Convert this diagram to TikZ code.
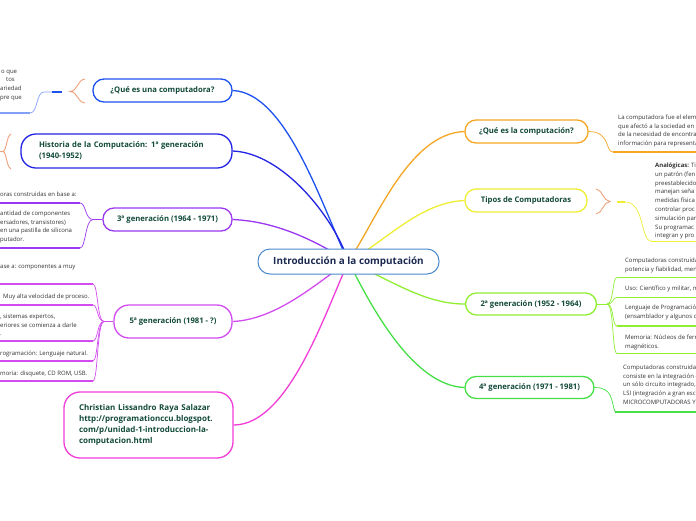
\documentclass[tikz,border=0pt]{standalone}
\usepackage{fontspec}
\setmainfont{Open Sans}
\usetikzlibrary{backgrounds}
\definecolor{cblue}{HTML}{1E52F0}
\definecolor{cindigo}{HTML}{2424E4}
\definecolor{cpurple}{HTML}{9B38F2}
\definecolor{cviolet}{HTML}{D24CF0}
\definecolor{cmagenta}{HTML}{F23CD8}
\definecolor{corange}{HTML}{F5A623}
\definecolor{cyellow}{HTML}{EEEE33}
\definecolor{clime}{HTML}{90EE33}
\definecolor{cgreen}{HTML}{46E046}
\definecolor{ccentral}{HTML}{4A88CC}
\definecolor{tgreen}{HTML}{124A3A}
\definecolor{tnavy}{HTML}{1B2950}
\definecolor{tgray}{HTML}{333333}
\definecolor{cbracket}{HTML}{F0A07A}
\begin{document}
\begin{tikzpicture}[x=1pt,y=-1pt,
  topic/.style={draw, line width=1.3pt, fill=white, rounded corners=11pt,
    font=\fontsize{7.7}{11}\selectfont\bfseries, text=tgreen, inner sep=0pt, align=center},
  sub/.style={anchor=north west, inner sep=0pt, font=\fontsize{6}{8.8}\selectfont, text=tgray, align=left},
  link/.style={line width=1.3pt},
  twig/.style={line width=0.7pt},
  uline/.style={line width=1.4pt},
  brk/.style={cbracket, line width=0.9pt}]
\useasboundingbox (0,0) rectangle (696,520);

% main nodes
\node[topic, draw=ccentral, line width=1pt, minimum width=181pt, minimum height=25pt, rounded corners=12pt,
  font=\fontsize{9.9}{12}\selectfont\bfseries, text=tnavy] (c) at (348.5,261.5) {Introducción a la computación};
\node[topic, draw=cblue, minimum width=139pt, minimum height=23pt] (n1) at (162.5,90.5) {¿Qué es una computadora?};
\node[topic, draw=cindigo, minimum height=34pt, text width=175pt, inner xsep=18pt, align=left, rounded corners=15pt] (n2) at (126.5,151) {Historia de la Computación: 1ª generación\\(1940-1952)};
\node[topic, draw=cpurple, minimum width=129pt, minimum height=23pt] (n3) at (167.5,219.5) {3ª generación (1964 - 1971)};
\node[topic, draw=cviolet, minimum width=118pt, minimum height=33pt, rounded corners=15pt] (n5) at (173,321.5) {5ª generación (1981 - ?)};
\node[topic, draw=cmagenta, minimum height=66pt, text width=139pt, inner xsep=15pt, align=left, rounded corners=16pt,
  font=\fontsize{8}{11}\selectfont\bfseries] (cr) at (148.5,425) {Christian Lissandro Raya Salazar\\http://programationccu.blogspot.\\com/p/unidad-1-introduccion-la-\\computacion.html};
\node[topic, draw=corange, minimum width=123pt, minimum height=23pt] (n6) at (526.5,131.5) {¿Qué es la computación?};
\node[topic, draw=cyellow, minimum width=122pt, minimum height=23pt] (n7) at (526,200.5) {Tipos de Computadoras};
\node[topic, draw=clime, minimum width=131pt, minimum height=22pt] (n8) at (531,304) {2ª generación (1952 - 1964)};
\node[topic, draw=cgreen, minimum width=129pt, minimum height=22pt] (n9) at (529.5,387.5) {4ª generación (1971 - 1981)};

% sub texts left
\node[sub] (t1a) at (1,69.6) {o que};
\node[sub] (t1b) at (6,77.6) {tos};
\node[sub] (t1c) at (0,85.6) {ariedad\\pre que};
\node[sub] (t3a) at (0,191.6) {oras construidas en base a:};
\node[sub] (t3b) at (0,210.6) {antidad de componentes\\ersadores, transistores)\\en una pastilla de silicona\\putador.};
\node[sub] (t5a) at (0,264.6) {ase a: componentes a muy};
\node[sub] (t5b) at (3,293.6) {Muy alta velocidad de proceso.};
\node[sub] (t5c) at (0,313.6) {, sistemas expertos,\\eriores se comienza a darle\\.};
\node[sub] (t5d) at (0,350.6) {rogramación: Lenguaje natural.};
\node[sub] (t5e) at (0,370.6) {moria: disquete, CD ROM, USB.};

% sub texts right
\node[sub] (t6) at (618,114.6) {La computadora fue el elem\\que afectó a la sociedad en\\de la necesidad de encontra\\información para representa};
\node[sub] (t7) at (655,162.6) {\textbf{Analógicas:} Ti\\un patrón (fen\\preestablecido\\manejan seña\\medidas física\\controlar proc\\simulación par\\Su programac\\integran y pro};
\node[sub] (t8a) at (625,257.6) {Computadoras construida\\potencia y fiabilidad, men};
\node[sub] (t8b) at (625,285.6) {Uso: Científico y militar, m};
\node[sub] (t8c) at (625,304.6) {Lenguaje de Programació\\(ensamblador y algunos d};
\node[sub] (t8d) at (625,334.6) {Memoria: Núcleos de ferr\\magnéticos.};
\node[sub] (t9) at (623,364.6) {Computadoras construidas\\consiste en la integración e\\un sólo circuito integrado,\\LSI (integración a gran esc\\MICROCOMPUTADORAS Y};

% coordinates
\coordinate (s1a) at (62,92);
\coordinate (s1b) at (52,92);
\coordinate (s1c) at (30,113);
\coordinate (s1d) at (0,113);
\coordinate (v3) at (93,219.5);
\coordinate (u3a) at (80,203); \coordinate (e3a) at (0,203);
\coordinate (u3b) at (80,248); \coordinate (e3b) at (0,248);
\coordinate (v5) at (104,321.5);
\foreach \y/\n in {284/a,305/b,341/c,361/d,381/e}{
  \coordinate (u5\n) at (93,\y); \coordinate (e5\n) at (0,\y);}
\coordinate (u6) at (613,152); \coordinate (e6) at (696,152);
\coordinate (s7a) at (617,202); \coordinate (s7b) at (625,202);
\coordinate (u7) at (652,241.5); \coordinate (e7) at (696,241.5);
\coordinate (v8) at (607,304);
\foreach \y/\n in {277.5/a,297.5/b,326/c,353.5/d}{
  \coordinate (u8\n) at (617,\y); \coordinate (e8\n) at (696,\y);}
\coordinate (u9) at (615,412); \coordinate (e9) at (696,412);

\begin{scope}[on background layer]
\fill[white] (0,0) rectangle (696,520);
% main connectors
\draw[cblue, link] (n1.east) .. controls +(55,2) and +(-25,-50) .. (c.center);
\draw[cindigo, link] (n2.east) .. controls +(50,2) and +(-15,-45) .. (c.center);
\draw[cpurple, link] (n3.east) .. controls +(45,2) and +(-32,-20) .. (c.center);
\draw[cviolet, link] (n5.east) .. controls +(45,-2) and +(-30,20) .. (c.center);
\draw[cmagenta, link] (cr.east) .. controls +(55,0) and +(-23,50) .. (c.center);
\draw[corange, link] (n6.west) .. controls +(-55,2) and +(28,-42) .. (c.center);
\draw[cyellow, link] (n7.west) .. controls +(-45,2) and +(37,-20) .. (c.center);
\draw[clime, link] (n8.west) .. controls +(-40,0) and +(45,20) .. (c.center);
\draw[cgreen, link] (n9.west) .. controls +(-50,-2) and +(25,50) .. (c.center);

% node 1 subtree
\draw[brk] (85,79) .. controls (77,80) and (78,91) .. (70,91.5) .. controls (78,92) and (77,102) .. (85,103);
\draw[cblue!55, twig] (s1b) -- (44,92) .. controls (36,92) and (38,113) .. (s1c);
\draw[cblue!55, uline] (s1c) -- (s1d);
\draw[cblue, uline] (s1b) -- (s1a);
% node 2 bracket
\draw[brk] (11,134) .. controls (6,137) and (7,150) .. (3,151.5) .. controls (7,153) and (6,166) .. (11,169);
\draw[brk] (3,151.5) -- (0,151.5);
% node 3 subtree
\draw[cpurple, twig] (n3.west) -- (v3);
\foreach \n in {a,b}{
  \draw[cpurple, twig] (v3) .. controls +(-8,0) and +(6,0) .. (u3\n);
  \draw[cpurple, uline] (u3\n) -- (e3\n);}
% node 5 subtree
\draw[cviolet, twig] (n5.west) -- (v5);
\foreach \n in {a,b,c,d,e}{
  \draw[cviolet, twig] (v5) .. controls +(-7,0) and +(5,0) .. (u5\n);
  \draw[cviolet, uline] (u5\n) -- (e5\n);}
% node 6 subtree
\draw[corange, twig] (n6.east) .. controls +(22,0) and +(-8,0) .. (u6);
\draw[corange, uline] (u6) -- (e6);
% node 7 subtree
\draw[brk] (596,189) .. controls (603,190) and (603,201) .. (610,201.5) .. controls (603,202) and (603,213) .. (596,214);
\draw[cyellow, uline] (s7a) -- (s7b);
\draw[cyellow, twig] (s7b) .. controls +(20,0) and +(-12,0) .. (u7);
\draw[cyellow, uline] (u7) -- (e7);
% node 8 subtree
\draw[clime, twig] (n8.east) -- (v8);
\foreach \n in {a,b,c,d}{
  \draw[clime, twig] (v8) .. controls +(7,0) and +(-5,0) .. (u8\n);
  \draw[clime, uline] (u8\n) -- (e8\n);}
% node 9 subtree
\draw[cgreen, twig] (n9.east) .. controls +(18,0) and +(-4,-12) .. (u9);
\draw[cgreen, uline] (u9) -- (e9);
\end{scope}
\end{tikzpicture}
\end{document}
